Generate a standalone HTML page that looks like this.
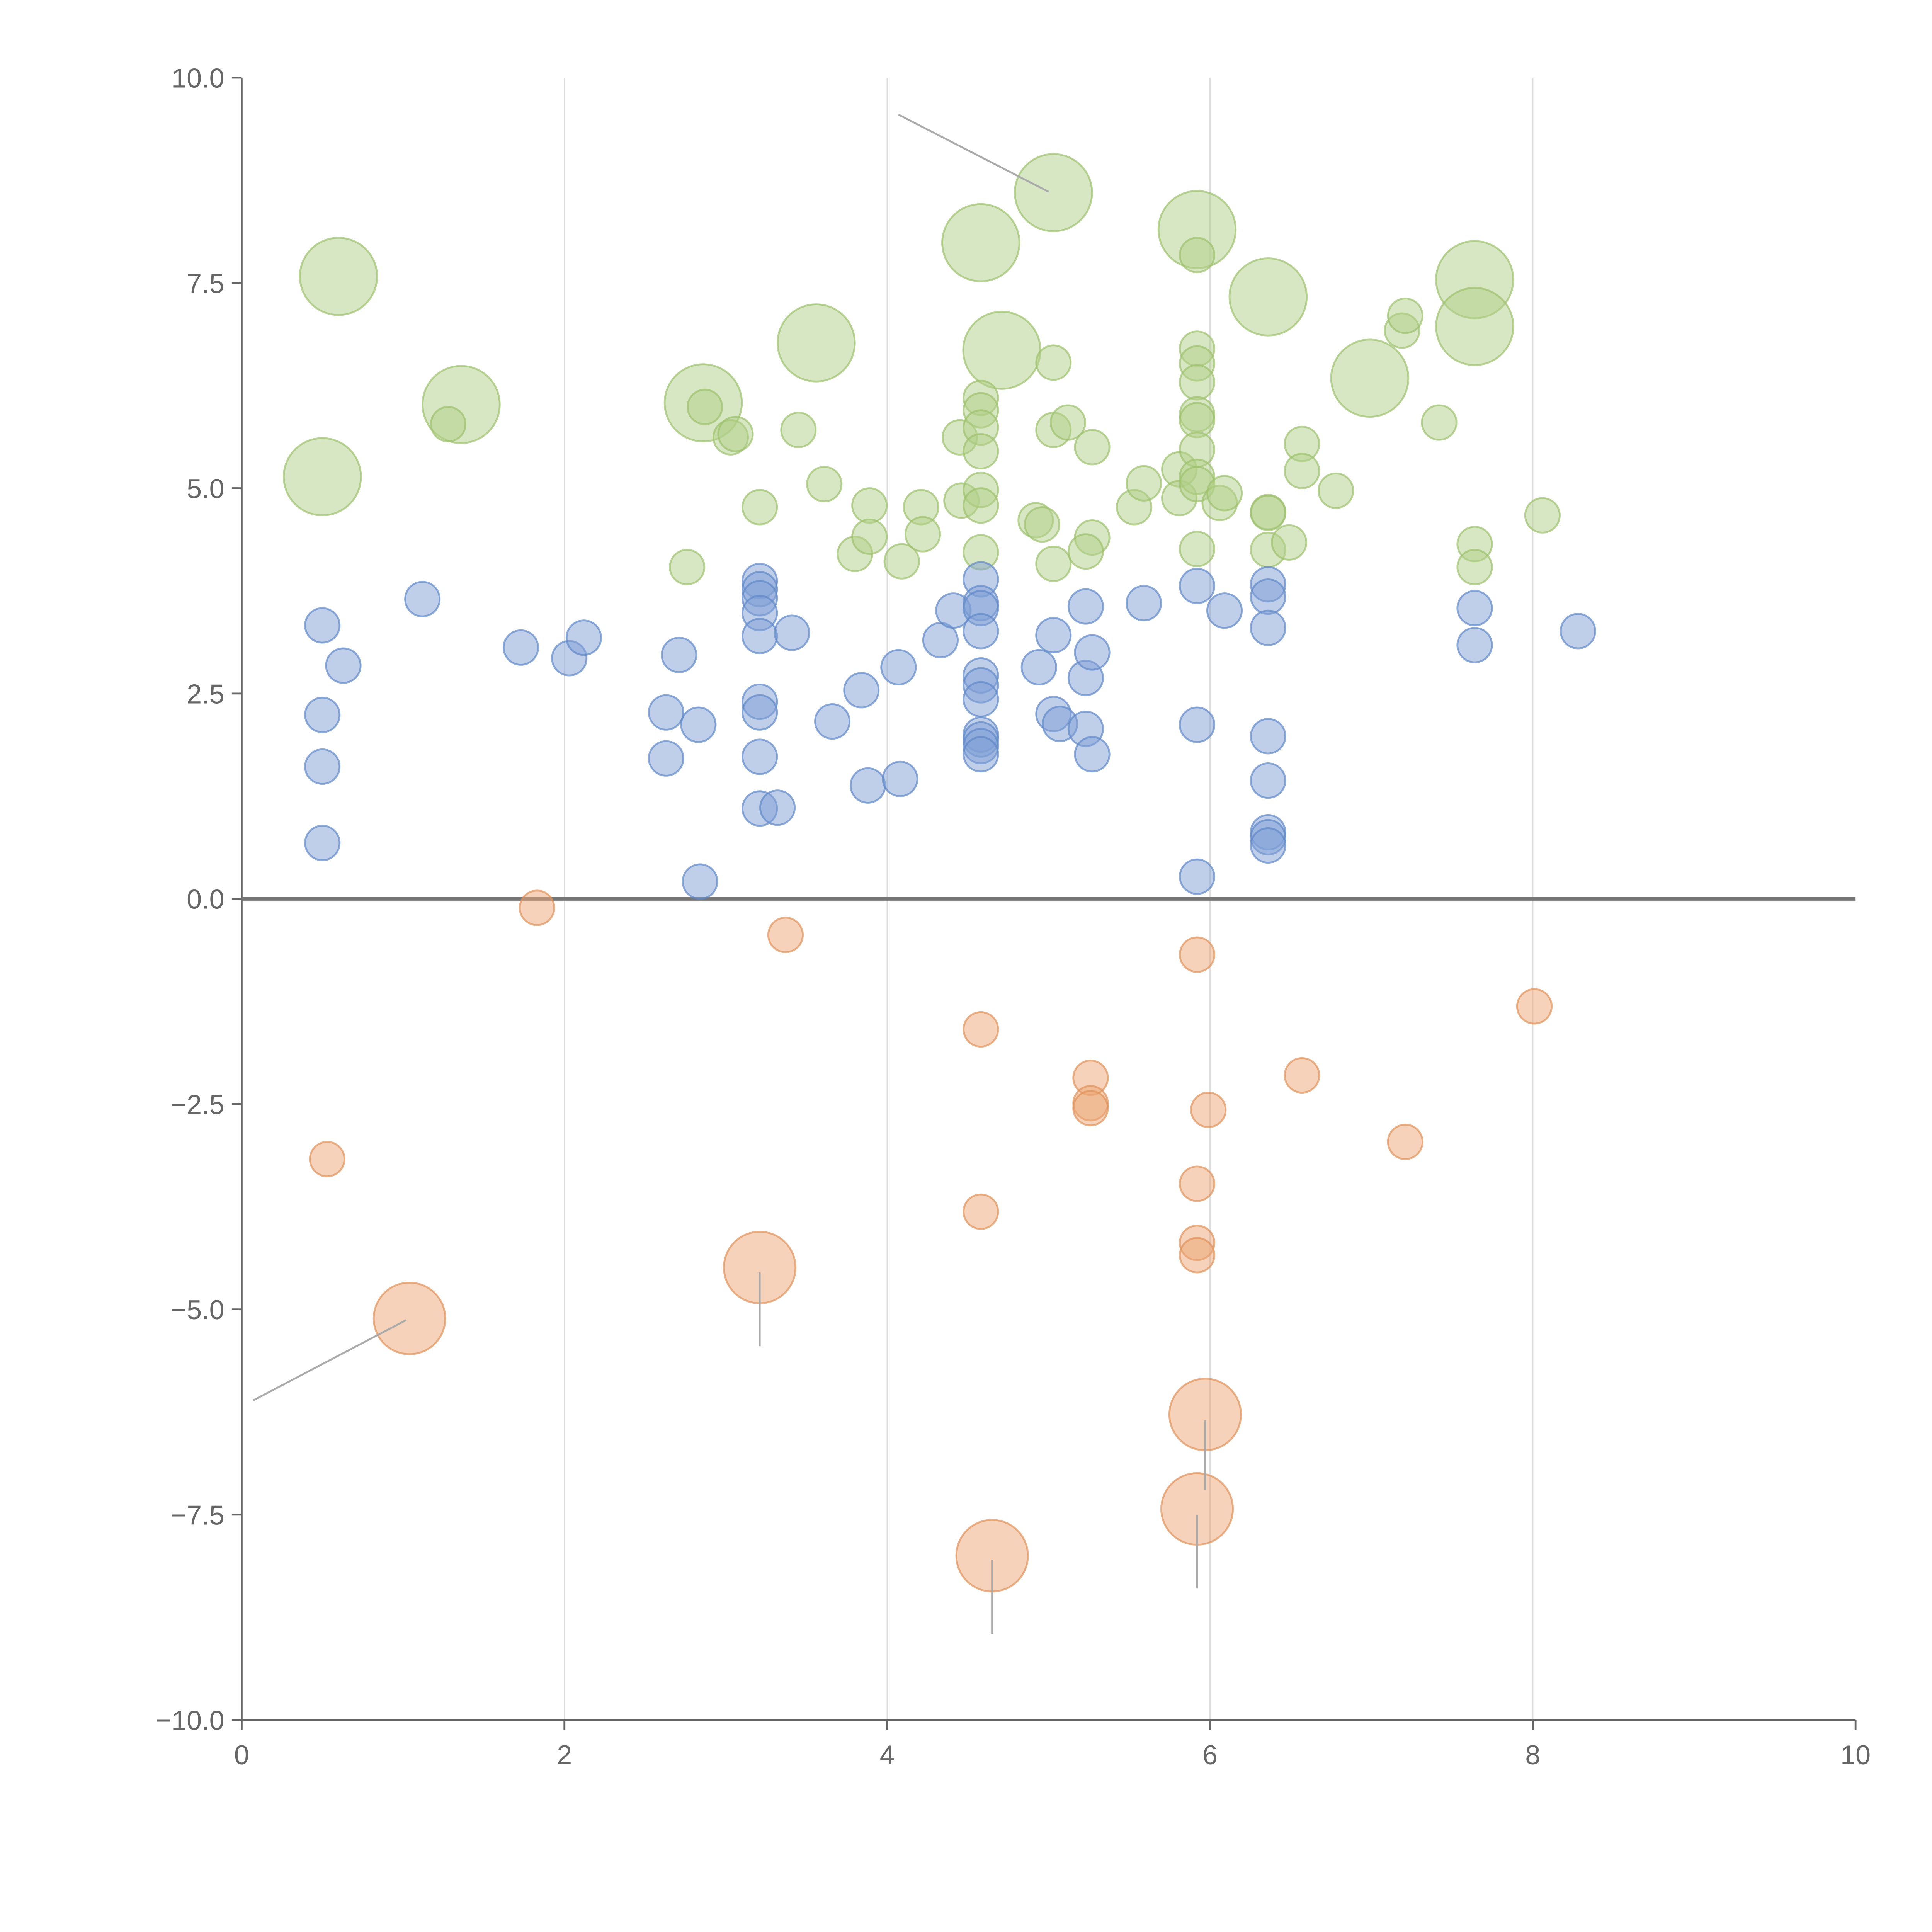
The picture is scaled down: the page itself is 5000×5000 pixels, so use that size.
<!DOCTYPE html>
<html><head><meta charset="utf-8"><style>html,body{margin:0;padding:0;background:#fff}svg{display:block}</style></head>
<body>
<svg id="chart" width="5000" height="5000" viewBox="0 0 1567 1567" xmlns="http://www.w3.org/2000/svg" font-family="Liberation Sans, sans-serif">
<g id="grid"></g>
<g id="axes"></g>
<g id="marks"></g>
<g id="annot"></g>
</svg>
<script>
const xTicks = [0, 2, 4, 6, 8, 10];
const xTickLabels = ["0", "2", "4", "6", "8", "10"];
const yTicks = [10, 7.5, 5, 2.5, 0, -2.5, -5, -7.5, -10];
const yTickLabels = ["10.0", "7.5", "5.0", "2.5", "0.0", "\u22122.5", "\u22125.0", "\u22127.5", "\u221210.0"];

const greenX = [0.60,0.50,1.36,2.86,3.56,4.58,4.71,5.03,5.92,6.36,6.99,7.64,7.64,
 1.28,2.76,2.87,3.03,3.06,3.21,3.45,3.61,3.80,3.89,3.89,4.09,4.21,4.22,4.45,4.46,4.58,4.58,4.58,4.58,4.58,4.58,4.58,
 5.03,5.03,5.03,5.12,4.92,4.96,5.27,5.27,5.23,5.53,5.59,5.81,5.81,5.92,5.92,5.92,5.92,5.92,5.92,5.92,5.92,5.92,5.92,
 6.06,6.09,6.36,6.36,6.36,6.49,6.57,6.57,6.78,7.19,7.21,7.42,7.64,7.64,8.06];
const greenY = [7.58,5.14,6.02,6.04,6.77,7.99,6.68,8.60,8.15,7.33,6.34,7.54,6.97,
 5.78,4.04,5.99,5.62,5.66,4.77,5.71,5.05,4.20,4.79,4.41,4.11,4.77,4.44,5.62,4.85,6.10,5.95,5.74,5.45,4.98,4.79,4.22,
 6.53,5.71,4.08,5.80,4.61,4.56,5.50,4.40,4.23,4.77,5.06,5.23,4.88,7.84,6.70,6.52,6.29,5.90,5.83,5.47,5.14,5.05,4.26,
 4.82,4.94,4.71,4.70,4.25,4.34,5.54,5.21,4.97,6.92,7.10,5.80,4.32,4.04,4.67];
const greenSize = [5,5,5,5,5,5,5,5,5,5,5,5,5,
 1,1,1,1,1,1,1,1,1,1,1,1,1,1,1,1,1,1,1,1,1,1,1,
 1,1,1,1,1,1,1,1,1,1,1,1,1,1,1,1,1,1,1,1,1,1,1,
 1,1,1,1,1,1,1,1,1,1,1,1,1,1,1];

const blueX = [0.50,0.50,0.50,0.50,0.63,1.12,1.73,2.03,2.12,2.63,2.63,2.71,2.83,2.84,
 3.21,3.21,3.21,3.21,3.21,3.21,3.21,3.21,3.21,3.32,3.41,3.66,3.84,3.88,4.07,4.08,4.33,4.41,
 4.58,4.58,4.58,4.58,4.58,4.58,4.58,4.58,4.58,4.58,4.58,4.94,5.03,5.03,5.07,5.23,5.23,5.23,5.27,5.27,
 5.59,5.92,5.92,5.92,6.09,6.36,6.36,6.36,6.36,6.36,6.36,6.36,6.36,7.64,7.64,8.28];
const blueY = [3.33,2.24,1.61,0.68,2.84,3.65,3.06,2.93,3.18,2.27,1.71,2.97,2.12,0.21,
 3.87,3.77,3.66,3.48,3.20,2.40,2.27,1.73,1.10,1.11,3.24,2.16,2.54,1.38,2.82,1.46,3.15,3.51,
 3.89,3.60,3.54,3.26,2.72,2.60,2.43,2.00,1.94,1.86,1.76,2.82,3.21,2.25,2.13,3.56,2.69,2.07,3.00,1.76,
 3.60,3.81,2.12,0.27,3.51,3.83,3.68,3.30,1.98,1.44,0.81,0.75,0.65,3.54,3.09,3.26];

const orangeX = [1.83,3.37,0.53,4.58,4.58,5.26,5.26,5.26,5.92,5.92,5.92,5.92,5.99,6.57,7.21,8.01,
 1.04,3.21,5.97,5.92,4.65];
const orangeY = [-0.11,-0.44,-3.17,-1.59,-3.81,-2.18,-2.49,-2.55,-0.68,-3.47,-4.19,-4.34,-2.57,-2.15,-2.96,-1.31,
 -5.11,-4.49,-6.28,-7.43,-8.00];
const orangeSize = [1,1,1,1,1,1,1,1,1,1,1,1,1,1,1,1,4.3,4.3,4.3,4.3,4.3];

const leaderX1 = [4.07,0.07,3.21,5.97,5.92,4.65];
const leaderY1 = [9.55,-6.11,-4.55,-6.35,-7.5,-8.05];
const leaderX2 = [5.00,1.02,3.21,5.97,5.92,4.65];
const leaderY2 = [8.61,-5.13,-5.45,-7.2,-8.4,-8.95];

const NS = "http://www.w3.org/2000/svg";
const X0 = 196, X1 = 1505, Y0 = 1395, Y1 = 63;
function xs(v){ return X0 + (v - 0) / 10 * (X1 - X0); }
function ys(v){ return Y0 - (v + 10) / 20 * (Y0 - Y1); }
function rs(s){ return 14 * Math.sqrt(s); }
function mk(tag, attrs, parent){
  const e = document.createElementNS(NS, tag);
  for (const k in attrs) e.setAttribute(k, attrs[k]);
  parent.appendChild(e); return e;
}
const grid = document.getElementById('grid');
const axes = document.getElementById('axes');
const marks = document.getElementById('marks');
const annot = document.getElementById('annot');

xTicks.forEach((t, i) => {
  if (t > 0 && t < 10) {
    const g = mk('line', {x1: xs(t), x2: xs(t), y1: Y1, y2: Y0, stroke: '#dddddd', 'stroke-width': 1}, grid);
    
    
  }
  const tk = mk('line', {x1: xs(t), x2: xs(t), y1: Y0, y2: Y0 + 8, stroke: '#666', 'stroke-width': 1.5}, axes);
  
  
  const tx = mk('text', {x: xs(t), y: Y0 + 36, 'text-anchor': 'middle', 'font-size': 22, fill: '#666'}, axes);
  tx.textContent = xTickLabels[i];
  
  
});
yTicks.forEach((t, i) => {
  const tk = mk('line', {x1: X0 - 8, x2: X0, y1: ys(t), y2: ys(t), stroke: '#666', 'stroke-width': 1.5}, axes);
  
  
  const tx = mk('text', {x: X0 - 14, y: ys(t) + 8, 'text-anchor': 'end', 'font-size': 22, fill: '#666'}, axes);
  tx.textContent = yTickLabels[i];
  
  
});
const xa = mk('line', {x1: X0, x2: X1, y1: Y0, y2: Y0, stroke: '#666', 'stroke-width': 1.5}, axes);


const ya = mk('line', {x1: X0, x2: X0, y1: Y1, y2: Y0, stroke: '#666', 'stroke-width': 1.5}, axes);


const zl = mk('line', {x1: X0, x2: X1, y1: ys(0), y2: ys(0), stroke: '#777', 'stroke-width': 3}, axes);



function series(xa, ya, sa, fill, stroke, name){
  xa.forEach((x, i) => {
    const c = mk('circle', {cx: xs(x), cy: ys(ya[i]), r: rs(sa ? sa[i] : 1), fill: fill, 'fill-opacity': 0.5, stroke: stroke, 'stroke-opacity': 0.7, 'stroke-width': 1.5}, marks);
    
    
  });
}
series(greenX, greenY, greenSize, '#b2cf88', '#9cc06c', 'green-bubble');
series(blueX, blueY, null, '#7fa0d6', '#5f88c8', 'blue-bubble');
series(orangeX, orangeY, orangeSize, '#eba673', '#e0925a', 'orange-bubble');

leaderX1.forEach((x, i) => {
  const l = mk('line', {x1: xs(x), y1: ys(leaderY1[i]), x2: xs(leaderX2[i]), y2: ys(leaderY2[i]), stroke: '#aaaaaa', 'stroke-width': 1.5}, annot);
  
  
});
</script>
</body></html>
